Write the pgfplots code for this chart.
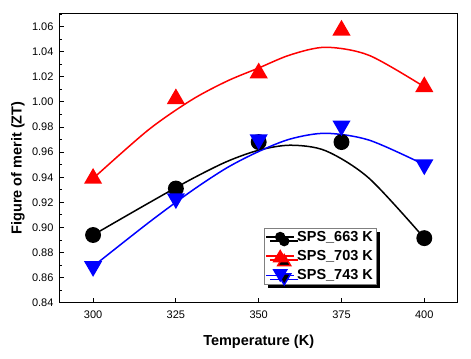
\documentclass[border=0pt]{standalone}
\usepackage{pgfplots}
\pgfplotsset{compat=1.18}
\usepackage{fontspec}
\setmainfont{Liberation Sans}
\usetikzlibrary{shadows}
\begin{document}
\begin{tikzpicture}
\path[use as bounding box] (-60pt,-56pt) rectangle (411.3pt,303pt);
\begin{axis}[
  scale only axis,
  width=397.7pt, height=289pt,
  xmin=290, xmax=410, ymin=0.84, ymax=1.07,
  xtick={300,325,350,375,400},
  ytick={0.84,0.86,...,1.07},
  minor y tick num=1,
  tick pos=left,
  tick align=inside,
  major tick length=4.5pt, minor tick length=2.5pt,
  every tick/.style={black, line width=0.9pt},
  axis line style={line width=1pt},
  /pgf/number format/assume math mode=true,
  ticklabel style={font=\fontsize{11}{13}\selectfont},
  yticklabel style={/pgf/number format/fixed,/pgf/number format/fixed zerofill,/pgf/number format/precision=2, xshift=-3pt},
  xticklabel style={/pgf/number format/set thousands separator={}, yshift=-4pt},
  xlabel={Temperature (K)},
  ylabel={Figure of merit (ZT)},
  label style={font=\fontsize{14.5}{17}\selectfont\bfseries},
  x label style={at={(axis description cs:0.5,-0.134)},anchor=center},
  y label style={at={(axis description cs:-0.1056,0.467)},anchor=center},
  legend cell align=left,
  legend style={at={(axis description cs:0.513,0.2595)},anchor=north west,
    font=\fontsize{14.5}{16}\selectfont\bfseries,
    draw=gray, line width=0.8pt, fill=white,
    inner xsep=1pt, inner ysep=1pt, row sep=3.5pt,
    drop shadow={shadow xshift=4pt,shadow yshift=-4pt,fill=black,opacity=1}},
]
% fitted curves
\addplot[black, line width=1.5pt, smooth, forget plot] coordinates {
(300,0.894)(316.6,0.9192)(329.7,0.9385)(340.4,0.9525)(350,0.9615)(359.6,0.9655)(370.3,0.9610)(383.4,0.9390)(400,0.8915)};
\addplot[red, line width=1.5pt, smooth, forget plot] coordinates {
(300,0.939)(316.6,0.9775)(329.7,1.0015)(340.4,1.0165)(350,1.0270)(359.6,1.0375)(370.3,1.0435)(383.4,1.0370)(400,1.012)};
\addplot[blue, line width=1.5pt, smooth, forget plot] coordinates {
(300,0.869)(316.6,0.9035)(329.7,0.9290)(340.4,0.9475)(350,0.9605)(359.6,0.9705)(370.3,0.9750)(383.4,0.9695)(400,0.950)};
% data points
\addplot[black, only marks, mark=*, mark size=7.2pt, line width=1.5pt,
  legend image code/.code={\draw[line width=1.5pt] (0cm,0cm) -- (1cm,0cm); \fill (0.5cm,0cm) circle (4.5pt);}]
 coordinates {(300,0.894)(325,0.931)(350,0.968)(375,0.968)(400,0.8915)};
\addlegendentry{SPS\_663 K}
\addplot[red, only marks, mark=triangle*, mark size=9pt, line width=1.5pt,
  legend image code/.code={\draw[line width=1.5pt] (0cm,0cm) -- (1cm,0cm); \fill (0.5cm,5.5pt) -- (0.5cm-6.5pt,-5.5pt) -- (0.5cm+6.5pt,-5.5pt) -- cycle;}]
 coordinates {(300,0.939)(325,1.0024)(350,1.023)(375,1.057)(400,1.012)};
\addlegendentry{SPS\_703 K}
\addplot[blue, only marks, mark=triangle*, mark size=9pt, mark options={rotate=180}, line width=1.5pt,
  legend image code/.code={\draw[line width=1.5pt] (0cm,0cm) -- (1cm,0cm); \fill (0.5cm,-5.5pt) -- (0.5cm-6.5pt,5.5pt) -- (0.5cm+6.5pt,5.5pt) -- cycle;}]
 coordinates {(300,0.869)(325,0.923)(350,0.970)(375,0.981)(400,0.950)};
\addlegendentry{SPS\_743 K}
\end{axis}
\end{tikzpicture}
\end{document}
